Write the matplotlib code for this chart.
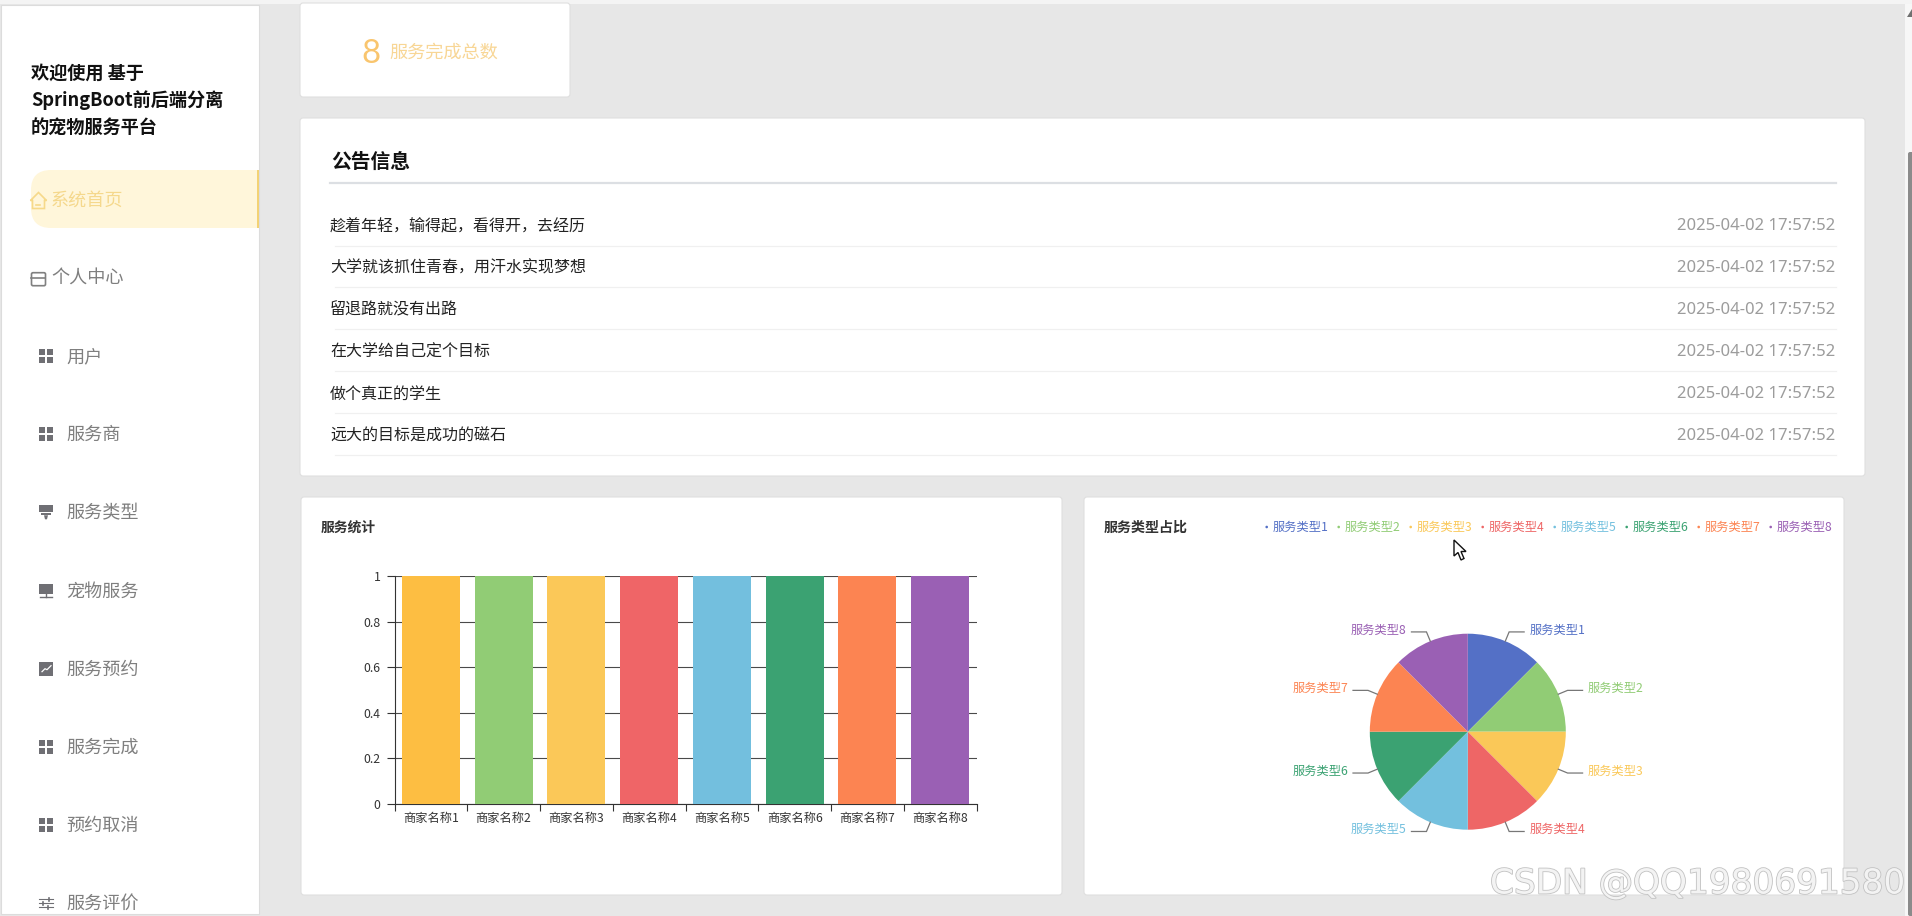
import numpy as np
import matplotlib
matplotlib.use('Agg')
import matplotlib.pyplot as plt
import matplotlib.patheffects as pe
from matplotlib.patches import Rectangle, FancyBboxPatch, Polygon, Circle

plt.rcParams['font.family'] = ['Noto Sans CJK SC', 'DejaVu Sans']

W, H = 1912, 916

# data
sidebar_title = ['欢迎使用 基于', 'SpringBoot前后端分离', '的宠物服务平台']
menu_labels = ['系统首页', '个人中心', '用户', '服务商', '服务类型', '宠物服务', '服务预约', '服务完成', '预约取消', '服务评价']
menu_icons = ['home', 'card', 'grid', 'grid', 'funnel', 'screen', 'trend', 'grid', 'grid', 'sliders']
notices = ['趁着年轻，输得起，看得开，去经历', '大学就该抓住青春，用汗水实现梦想', '留退路就没有出路',
           '在大学给自己定个目标', '做个真正的学生', '远大的目标是成功的磁石']
notice_times = ['2025-04-02 17:57:52'] * 6
total_count = '8'
total_label = '服务完成总数'

merchants = ['商家名称1', '商家名称2', '商家名称3', '商家名称4', '商家名称5', '商家名称6', '商家名称7', '商家名称8']
merchant_values = [1, 1, 1, 1, 1, 1, 1, 1]
bar_colors = ['#fdbe42', '#91cc75', '#fbc858', '#ef6567', '#73bfde', '#3ba272', '#fc8452', '#9a60b4']
y_ticks = [0, 0.2, 0.4, 0.6, 0.8, 1]
y_tick_labels = ['0', '0.2', '0.4', '0.6', '0.8', '1']

service_types = ['服务类型1', '服务类型2', '服务类型3', '服务类型4', '服务类型5', '服务类型6', '服务类型7', '服务类型8']
service_values = [1, 1, 1, 1, 1, 1, 1, 1]
pie_colors = ['#5470c6', '#91cc75', '#fac858', '#ee6666', '#73c0de', '#3ba272', '#fc8452', '#9a60b4']


def px(size):
    # font size in pixels to points
    return size * 0.72


def card(ax, x0, y0, x1, y1):
    ax.add_patch(FancyBboxPatch((x0, y0), x1 - x0, y1 - y0, boxstyle='round,pad=0,rounding_size=3',
                                fc='white', ec='#dfdfdf', lw=0.8, zorder=1))


def draw_icon(ax, kind, x, y, color):
    # x, y is the centre of the icon
    if kind == 'grid':
        for dx in (-7, 1):
            for dy in (-7, 1):
                ax.add_patch(Rectangle((x + dx, y + dy), 6, 6, fc=color, ec='none', zorder=3))
    elif kind == 'home':
        ax.add_patch(Polygon([(x - 8, y), (x, y - 8), (x + 8, y), (x + 6, y), (x + 6, y + 8), (x - 6, y + 8), (x - 6, y)],
                             closed=True, fc='none', ec=color, lw=1.2, zorder=3))
        ax.plot([x - 2, x + 2], [y + 4, y + 4], color=color, lw=1.2, zorder=3)
    elif kind == 'card':
        ax.add_patch(FancyBboxPatch((x - 7, y - 6), 14, 13, boxstyle='round,pad=0,rounding_size=1.5',
                                    fc='none', ec=color, lw=1.2, zorder=3))
        ax.plot([x - 7, x + 7], [y - 1, y - 1], color=color, lw=1.2, zorder=3)
    elif kind == 'funnel':
        ax.add_patch(Rectangle((x - 7, y - 7), 14, 7, fc=color, ec='none', zorder=3))
        ax.add_patch(Rectangle((x - 5, y + 1), 10, 2, fc=color, ec='none', zorder=3))
        ax.add_patch(Polygon([(x - 2, y + 3), (x + 2, y + 3), (x + 1, y + 7), (x - 1, y + 7)], fc=color, ec='none', zorder=3))
    elif kind == 'screen':
        ax.add_patch(Rectangle((x - 7, y - 7), 14, 10, fc=color, ec='none', zorder=3))
        ax.plot([x - 6, x + 6], [y + 6, y + 6], color=color, lw=1, zorder=3)
        ax.plot([x, x], [y + 3, y + 6], color=color, lw=1, zorder=3)
    elif kind == 'trend':
        ax.add_patch(Rectangle((x - 7, y - 7), 14, 14, fc=color, ec='none', zorder=3))
        ax.plot([x - 4, x - 1, x + 1, x + 5], [y + 3, y, y + 1, y - 3], color='white', lw=0.9, zorder=4)
    elif kind == 'sliders':
        for i, dy in enumerate((-4, 0, 4)):
            ax.plot([x - 7, x + 7], [y + dy, y + dy], color=color, lw=0.8, zorder=3)
            knob = x + (3, -3, 2)[i]
            ax.plot([knob, knob], [y + dy - 1.5, y + dy + 1.5], color=color, lw=1.2, zorder=3)


fig = plt.figure(figsize=(W / 100, H / 100), dpi=100, facecolor='#e7e7e7')

# page background, everything that is not a chart is drawn in pixel coordinates
bg = fig.add_axes([0, 0, 1, 1])
bg.set_xlim(0, W)
bg.set_ylim(H, 0)
bg.axis('off')

bg.add_patch(Rectangle((0, 0), W, 4, fc='#f4f4f4', ec='none', zorder=0))

# scrollbar
bg.add_patch(Rectangle((1905, 4), 7, H - 4, fc='#f7f7f7', ec='none', zorder=1))
bg.add_patch(FancyBboxPatch((1908, 152), 6, H - 152, boxstyle='round,pad=0,rounding_size=2',
                            fc='#8b8b8b', ec='none', zorder=2))
bg.add_patch(Polygon([(1907, 17), (1912, 17), (1912, 9)], fc='#707070', ec='none', zorder=2))

# sidebar
bg.add_patch(Rectangle((1, 5), 258, H - 7, fc='white', ec='#dcdcdc', lw=0.8, zorder=1))
for i, line in enumerate(sidebar_title):
    bg.text(31, 73 + 27 * i, line, fontsize=px(18.2), fontweight='bold', color='#111111', va='center', zorder=3)

bg.add_patch(FancyBboxPatch((31, 170), 120, 58, boxstyle='round,pad=0,rounding_size=20',
                            fc='#fff6da', ec='none', zorder=2))
bg.add_patch(Rectangle((70, 170), 189, 58, fc='#fff6da', ec='none', zorder=2))
bg.add_patch(Rectangle((257.5, 170), 2, 58, fc='#f3d274', ec='none', zorder=3))

for i, (label, icon) in enumerate(zip(menu_labels, menu_icons)):
    y = 200.5 + 78.2 * i
    if i == 0:
        draw_icon(bg, icon, 38.5, y, '#f6d98a')
        bg.text(51, y, label, fontsize=px(18.1), color='#f5d88c', va='center', zorder=3)
    elif i == 1:
        draw_icon(bg, icon, 38.5, y, '#808080')
        bg.text(51, y, label, fontsize=px(18.1), color='#7f7f7f', va='center', zorder=3)
    else:
        draw_icon(bg, icon, 46, y - 1, '#6f6f74')
        bg.text(66, y, label, fontsize=px(18.1), color='#7f7f7f', va='center', zorder=3, clip_on=True)

# total card
card(bg, 300, 3, 570, 97)
bg.text(371, 54, total_count, fontsize=px(33), color='#f9c56e', ha='center', va='center', zorder=3,
        family=['Lato', 'DejaVu Sans'])
bg.text(389, 53, total_label, fontsize=px(18.2), color='#f8d695', va='center', zorder=3)

# notices
card(bg, 300, 118, 1865, 476)
bg.text(331, 162, '公告信息', fontsize=px(19.8), fontweight='bold', color='#111111', va='center', zorder=3)
bg.plot([330, 1836], [183, 183], color='#dcdfe3', lw=1.6, zorder=3)
for i, (notice, stamp) in enumerate(zip(notices, notice_times)):
    y = 226.5 + 41.9 * i
    bg.text(330, y, notice, fontsize=px(16), color='#222222', va='center', zorder=3)
    bg.text(1835, y, stamp, fontsize=px(16.7), color='#9c9c9c', ha='right', va='center', zorder=3,
            family=['Noto Sans', 'DejaVu Sans'])
    bg.plot([335, 1836], [y + 19, y + 19], color='#f0f0f0', lw=0.9, zorder=3)

# chart cards
card(bg, 301, 497, 1062, 895)
card(bg, 1084, 497, 1844, 895)
bg.text(320.5, 528, '服务统计', fontsize=px(13.8), fontweight='bold', color='#333333', va='center', zorder=3)
bg.text(1103.5, 528, '服务类型占比', fontsize=px(14), fontweight='bold', color='#333333', va='center', zorder=3)

# bar chart
bar_ax = fig.add_axes([394.5 / W, 1 - 804 / H, 582 / W, 228 / H], zorder=2)
bar_ax.patch.set_alpha(0)
x = np.arange(len(merchants))
bar_ax.bar(x, merchant_values, width=0.8, color=bar_colors, zorder=3)
bar_ax.set_xlim(-0.5, len(merchants) - 0.5)
bar_ax.set_ylim(0, 1)
bar_ax.set_yticks(y_ticks)
bar_ax.set_yticklabels(y_tick_labels, fontsize=px(12.3), color='#333333')
bar_ax.set_xticks(np.arange(len(merchants) + 1) - 0.5)
bar_ax.set_xticklabels([])
bar_ax.set_xticks(x, minor=True)
bar_ax.set_xticklabels(merchants, minor=True, fontsize=px(12.2), color='#333333')
bar_ax.tick_params(axis='x', which='major', length=5, width=0.8, color='#333333', direction='out')
bar_ax.tick_params(axis='x', which='minor', length=0, pad=6)
bar_ax.tick_params(axis='y', length=6, width=0.8, color='#333333', pad=4)
bar_ax.grid(axis='y', color='#4a4a4a', lw=0.8, zorder=1)
bar_ax.set_axisbelow(True)
for side in ('top', 'right'):
    bar_ax.spines[side].set_visible(False)
for side in ('left', 'bottom'):
    bar_ax.spines[side].set_color('#333333')
    bar_ax.spines[side].set_linewidth(0.8)

# pie chart, axes units are pixels around the centre
pie_cx, pie_cy, pie_r = 1467.8, 731.7, 98
half_w, half_h = 240, 150
pie_ax = fig.add_axes([(pie_cx - half_w) / W, 1 - (pie_cy + half_h) / H, 2 * half_w / W, 2 * half_h / H], zorder=2)
pie_ax.patch.set_alpha(0)
wedges, _ = pie_ax.pie(service_values, colors=pie_colors, startangle=90, counterclock=False, radius=pie_r)
pie_ax.set_xlim(-half_w, half_w)
pie_ax.set_ylim(-half_h, half_h)
pie_ax.set_aspect('equal')
for wedge, name, color in zip(wedges, service_types, pie_colors):
    mid = np.deg2rad((wedge.theta1 + wedge.theta2) / 2)
    cos_a, sin_a = np.cos(mid), np.sin(mid)
    side = 1 if cos_a > 0 else -1
    knee_x, knee_y = (pie_r + 10) * cos_a, (pie_r + 10) * sin_a
    pie_ax.plot([pie_r * cos_a, knee_x, knee_x + side * 15], [pie_r * sin_a, knee_y, knee_y],
                color='#777777', lw=0.9, solid_joinstyle='miter')
    pie_ax.text(knee_x + side * 20, knee_y + 2, name, fontsize=px(12.2), color=color, va='center',
                ha='left' if side > 0 else 'right')

# legend row
for i, (name, color) in enumerate(zip(service_types, pie_colors)):
    lx = 1266.7 + 72 * i
    bg.add_patch(Circle((lx, 527), 1.3, fc=color, ec='none', zorder=3))
    bg.text(lx + 6, 527, name, fontsize=px(12.2), color=color, va='center', zorder=3)

# mouse pointer
cx, cy = 1454, 540
bg.add_patch(Polygon([(cx, cy), (cx, cy + 16), (cx + 4, cy + 12.5), (cx + 7, cy + 20), (cx + 10, cy + 18.5),
                      (cx + 7, cy + 11.5), (cx + 12, cy + 11.5)],
                     closed=True, fc='white', ec='#111111', lw=1, zorder=5))

# watermark
fig.text(1490 / W, 1 - 884 / H, 'CSDN @QQ1980691580', fontsize=px(34.3), color='#f3f3f3', ha='left', va='center',
         family=['DejaVu Sans'], zorder=10,
         path_effects=[pe.withStroke(linewidth=1.2, foreground='#c2c2c2')])

fig.savefig('out.png', dpi=100, facecolor=fig.get_facecolor())
